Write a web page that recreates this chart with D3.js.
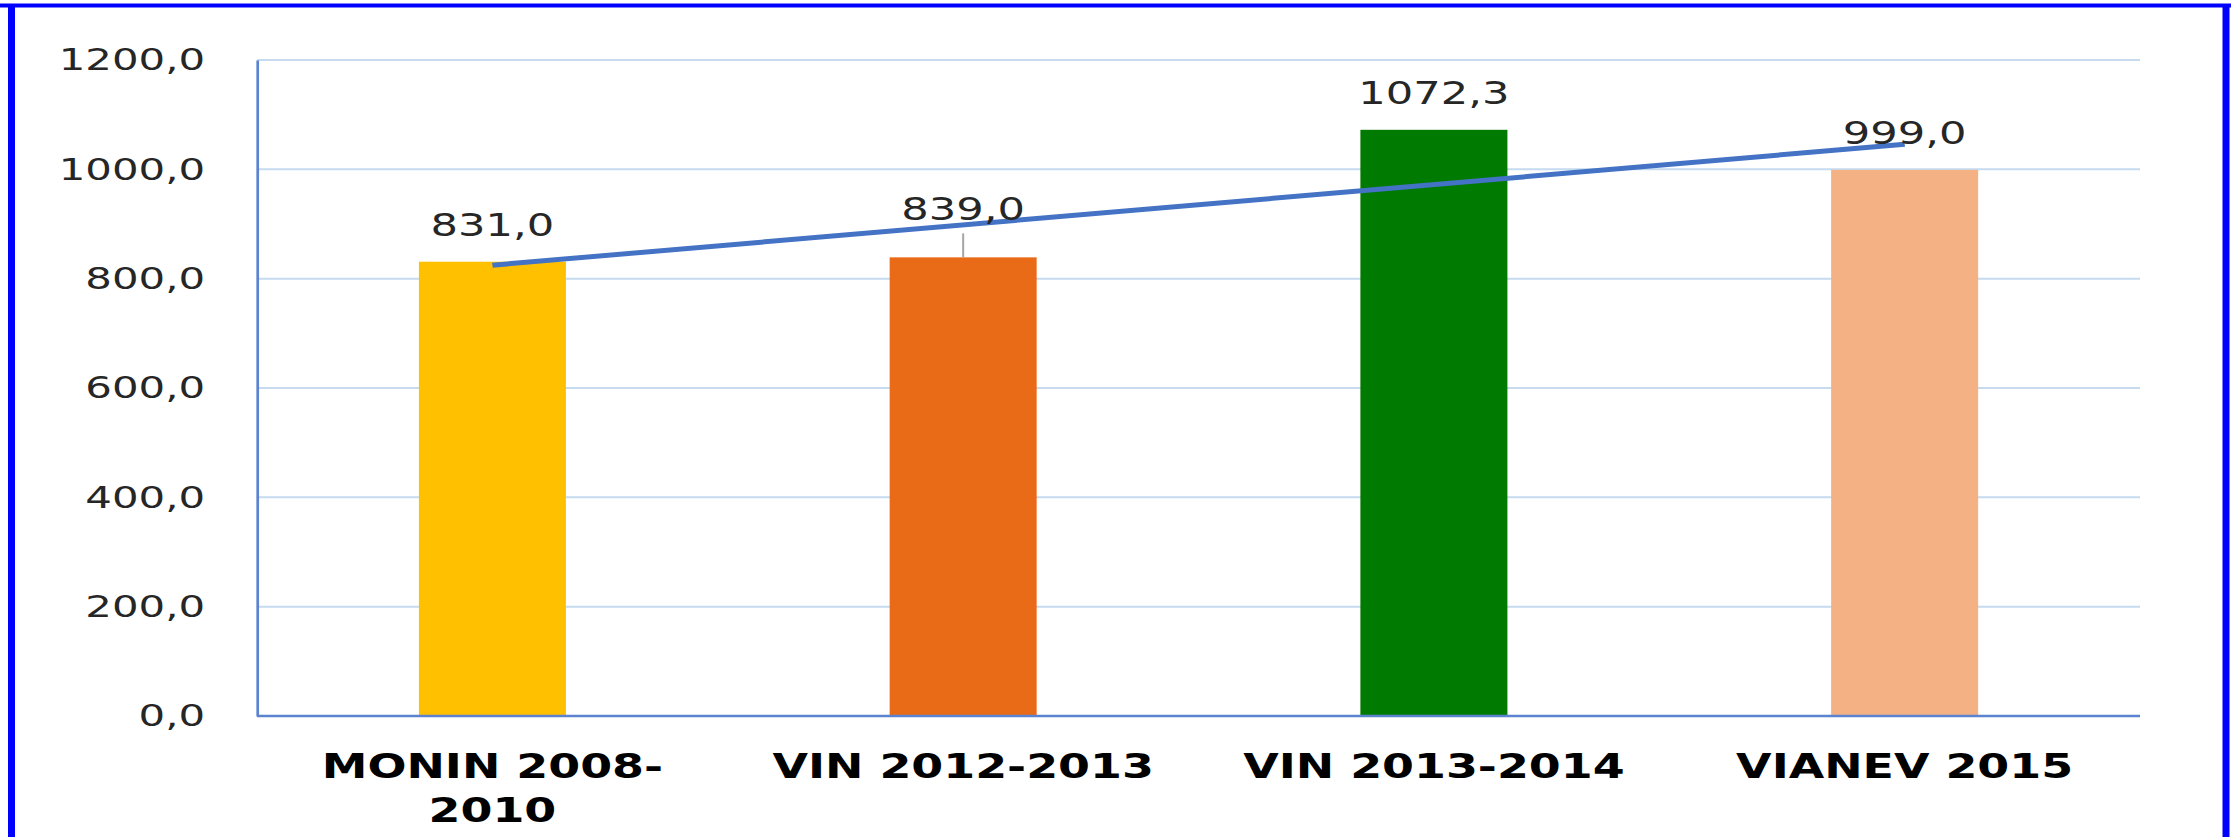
<!DOCTYPE html>
<html>
<head>
<meta charset="utf-8">
<script src="https://cdn.jsdelivr.net/npm/d3@7"></script>
<style>
  body { margin: 0; background: #fff; }
  svg { display: block; }
</style>
</head>
<body>
<div id="chart"></div>
<script>
// data
const categories = ["MONIN 2008-2010", "VIN 2012-2013", "VIN 2013-2014", "VIANEV 2015"];
const values = [831.0, 839.0, 1072.3, 999.0];
const barColors = ["#FFC000", "#E96B17", "#007A00", "#F4B183"];
const yTicks = [0, 200, 400, 600, 800, 1000, 1200];
// linear trend line, read at first and last category
const trendValues = [824.7, 1045.9];

// setup canvas
const width = 2231;
const height = 837;
const stretch = 1.35; // picture is stretched horizontally

const plot_left = 190.4;
const plot_right = 1585.2;
const plot_top = 60;
const plot_bottom = 716;

const svg = d3.select("#chart").append("svg")
  .attr("width", width)
  .attr("height", height);

svg.append("rect")
  .attr("width", width)
  .attr("height", height)
  .attr("fill", "#fff");

const g = svg.append("g")
  .attr("transform", "scale(" + stretch + ",1)");

const x = d3.scaleBand()
  .domain(categories)
  .range([plot_left, plot_right])
  .paddingInner(0.6877)
  .paddingOuter(0.6877 / 2);

const y = d3.scaleLinear()
  .domain([0, 1200])
  .range([plot_bottom, plot_top]);

const fmt = v => d3.format(".1f")(v).replace(".", ",");

// gridlines
g.append("g")
  .selectAll("line")
  .data(yTicks.filter(d => d > 0))
  .enter().append("line")
    .attr("x1", plot_left)
    .attr("x2", plot_right)
    .attr("y1", d => y(d))
    .attr("y2", d => y(d))
    .attr("stroke", "#C6DAF0")
    .attr("stroke-width", 2);

// y axis
const yAxis = g.append("g")
  .attr("transform", "translate(" + plot_left + ",0)")
  .call(d3.axisLeft(y).tickValues(yTicks).tickFormat(fmt).tickSize(0).tickPadding(38.5));
yAxis.select(".domain").attr("stroke", "#5B83D0").attr("stroke-width", 2);
yAxis.selectAll("text")
  .attr("font-family", "DejaVu Sans, Verdana, sans-serif")
  .attr("font-size", 31)
  .attr("fill", "#262626");

// bars
g.append("g")
  .selectAll("rect")
  .data(values)
  .enter().append("rect")
    .attr("x", (d, i) => x(categories[i]))
    .attr("y", d => y(d))
    .attr("width", x.bandwidth())
    .attr("height", d => y(0) - y(d))
    .attr("fill", (d, i) => barColors[i]);

// x axis line
g.append("line")
  .attr("x1", plot_left)
  .attr("x2", plot_right)
  .attr("y1", y(0))
  .attr("y2", y(0))
  .attr("stroke", "#5B83D0")
  .attr("stroke-width", 2.5);

// leader line for second label
const c2 = x(categories[1]) + x.bandwidth() / 2;
g.append("line")
  .attr("x1", c2).attr("x2", c2)
  .attr("y1", y(values[1]))
  .attr("y2", y(values[1]) - 24)
  .attr("stroke", "#A6A6A6")
  .attr("stroke-width", 1.5);

// trend line
const first = categories[0], last = categories[categories.length - 1];
g.append("line")
  .attr("x1", x(first) + x.bandwidth() / 2)
  .attr("y1", y(trendValues[0]))
  .attr("x2", x(last) + x.bandwidth() / 2)
  .attr("y2", y(trendValues[1]))
  .attr("stroke", "#4472C4")
  .attr("stroke-width", 5);

// data labels
g.append("g")
  .selectAll("text")
  .data(values)
  .enter().append("text")
    .attr("x", (d, i) => x(categories[i]) + x.bandwidth() / 2)
    .attr("y", (d, i) => y(d) - (i === 1 ? 37 : 26))
    .attr("text-anchor", "middle")
    .attr("font-family", "DejaVu Sans, Verdana, sans-serif")
    .attr("font-size", 32)
    .attr("fill", "#262626")
    .text(d => fmt(d));

// category labels, wrapped after the hyphen when long
const catText = g.append("g")
  .selectAll("text")
  .data(categories)
  .enter().append("text")
    .attr("x", d => x(d) + x.bandwidth() / 2)
    .attr("y", 778)
    .attr("text-anchor", "middle")
    .attr("font-family", "DejaVu Sans, Verdana, sans-serif")
    .attr("font-weight", "bold")
    .attr("font-size", 34)
    .attr("fill", "#000");

catText.each(function(d) {
  const t = d3.select(this);
  const cut = d.lastIndexOf("-") + 1;
  const lines = d.length > 13 ? [d.slice(0, cut), d.slice(cut)] : [d];
  lines.forEach((line, i) => {
    t.append("tspan")
      .attr("x", x(d) + x.bandwidth() / 2)
      .attr("dy", i === 0 ? 0 : 44)
      .text(line);
  });
});

// outer blue frame
svg.append("line").attr("x1", 0).attr("x2", width).attr("y1", 5.5).attr("y2", 5.5)
  .attr("stroke", "#0000FF").attr("stroke-width", 4);
svg.append("line").attr("x1", 11.5).attr("x2", 11.5).attr("y1", 4).attr("y2", height)
  .attr("stroke", "#0000FF").attr("stroke-width", 7);
svg.append("line").attr("x1", 2226).attr("x2", 2226).attr("y1", 4).attr("y2", height)
  .attr("stroke", "#0000FF").attr("stroke-width", 7);
</script>
</body>
</html>
